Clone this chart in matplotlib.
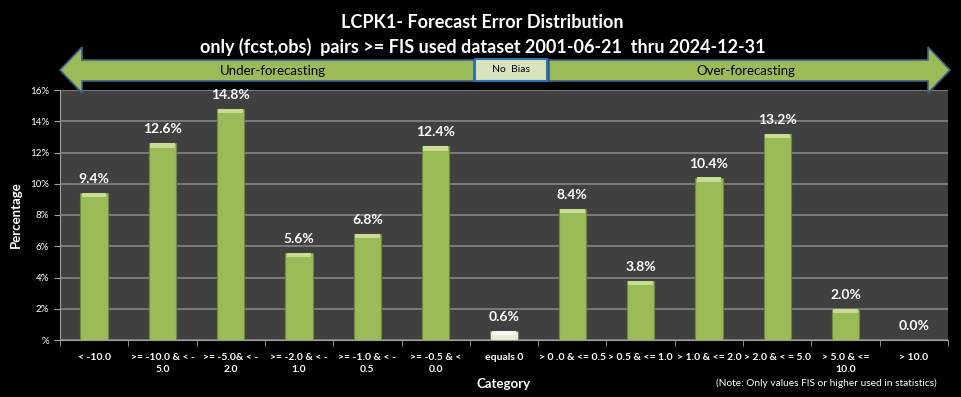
import matplotlib.pyplot as plt
from matplotlib.patches import Polygon, Rectangle
import numpy as np

categories = ["< -10.0", ">= -10.0 & < -\n5.0", ">= -5.0& < -\n2.0", ">= -2.0 & < -\n1.0",
              ">= -1.0 & < -\n0.5", ">= -0.5 & <\n0.0", "equals 0", "> 0 .0 & <= 0.5",
              "> 0.5 & <= 1.0", "> 1.0 & <= 2.0", "> 2.0 & < = 5.0", "> 5.0 & <=\n10.0", "> 10.0"]
percent = [9.4, 12.6, 14.8, 5.6, 6.8, 12.4, 0.6, 8.4, 3.8, 10.4, 13.2, 2.0, 0.0]
yticks = [0, 2, 4, 6, 8, 10, 12, 14, 16]
ytick_labels = ["%", "2%", "4%", "6%", "8%", "10%", "12%", "14%", "16%"]

plt.rcParams['font.family'] = ['Lato', 'DejaVu Sans']

W, H = 961, 397
fig = plt.figure(figsize=(W / 100, H / 100), dpi=100, facecolor="black")
ax = fig.add_axes([60 / W, 1 - 340 / H, 888 / W, 250 / H])
ax.set_facecolor("#404040")

x = np.arange(len(categories))
green = "#9BBB59"
colors = [green] * len(percent)
colors[6] = "#E6EED5"
top_colors = ["#C8DC94"] * len(percent)
top_colors[6] = "#F6F9EF"
bevel = 0.28
ax.bar(x, percent, width=0.4, color=colors, edgecolor="#6E8B3D", linewidth=0.8, zorder=3)
bev = [min(bevel, p) for p in percent]
ax.bar(x, bev, bottom=np.array(percent) - np.array(bev), width=0.36, color=top_colors,
       linewidth=0, zorder=4)

for xi, p in zip(x, percent):
    ax.text(xi, p + 0.5, f"{p:.1f}%", ha="center", va="bottom", color="white",
            fontsize=10, fontweight="bold", zorder=5)

ax.set_xlim(-0.5, len(categories) - 0.5)
ax.set_ylim(0, 16)
ax.set_yticks(yticks)
ax.set_yticklabels(ytick_labels, color="white", fontsize=7)
ax.set_xticks(x)
ax.set_xticklabels(categories, color="white", fontsize=7.5, fontweight="bold", linespacing=1.5)
ax.set_xticks(np.arange(len(categories) + 1) - 0.5, minor=True)
ax.tick_params(axis="x", which="major", length=0, pad=9)
ax.tick_params(axis="x", which="minor", length=4, color="#A0A0A0")
ax.tick_params(axis="y", length=4, color="#A0A0A0", pad=4)
ax.grid(axis="y", color="#858585", linewidth=1.2, zorder=1)
for s in ["top", "right"]:
    ax.spines[s].set_visible(False)
for s in ["left", "bottom"]:
    ax.spines[s].set_color("#A0A0A0")

ax.set_ylabel("Percentage", color="white", fontsize=9.5, fontweight="bold", labelpad=6)
ax.set_xlabel("Category", color="white", fontsize=9.5, fontweight="bold", labelpad=3)

fig.text(0.502, 1 - 22 / H, "LCPK1- Forecast Error Distribution", ha="center", va="center",
         color="white", fontsize=13, fontweight="bold")
fig.text(0.502, 1 - 47 / H, "only (fcst,obs)  pairs >= FIS used dataset 2001-06-21  thru 2024-12-31",
         ha="center", va="center", color="white", fontsize=13, fontweight="bold")
fig.text(826 / W, 1 - 383 / H, "(Note: Only values FIS or higher used in statistics)", ha="center",
         va="center", color="white", fontsize=7.3)

# banner arrows in pixel coordinates
ov = fig.add_axes([0, 0, 1, 1], facecolor="none")
ov.set_xlim(0, W)
ov.set_ylim(H, 0)
ov.axis("off")
left_arrow = [(60, 70), (82, 47), (82, 60), (474, 60), (474, 81), (82, 81), (82, 93)]
right_arrow = [(950, 70), (928, 47), (928, 60), (549, 60), (549, 81), (928, 81), (928, 93)]
for pts in (left_arrow, right_arrow):
    ov.add_patch(Polygon(pts, closed=True, facecolor=green, edgecolor="#3F5F8A", linewidth=1.2))
ov.add_patch(Rectangle((475, 59), 72, 22, facecolor="#D7E4BD", edgecolor="#2E75B6", linewidth=1.5))
ov.text(273, 71, "Under-forecasting", ha="center", va="center", fontsize=9.5, color="black")
ov.text(746, 71, "Over-forecasting", ha="center", va="center", fontsize=9.5, color="black")
ov.text(511, 70, "No  Bias", ha="center", va="center", fontsize=7.5, color="black")

fig.savefig("out.png", dpi=100, facecolor="black")
